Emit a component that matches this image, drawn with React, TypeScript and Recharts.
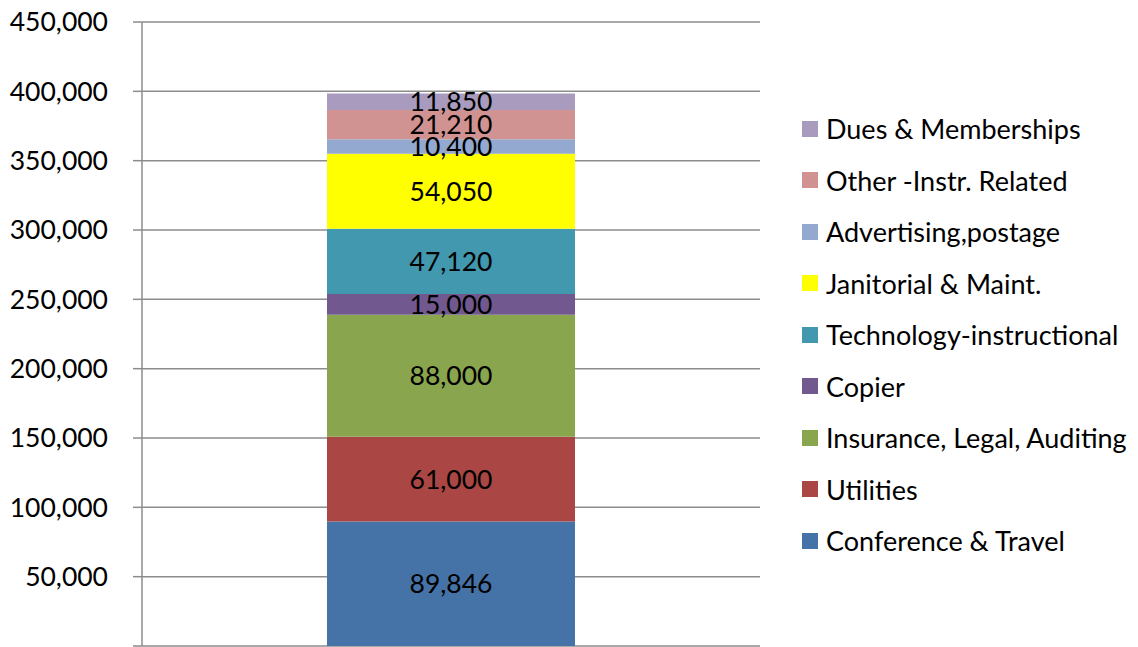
import React from 'react';
import { BarChart, Bar, XAxis, YAxis, CartesianGrid, LabelList } from 'recharts';

const categories = ['Budget'];
const seriesNames = [
  'Conference & Travel',
  'Utilities',
  'Insurance, Legal, Auditing',
  'Copier',
  'Technology-instructional',
  'Janitorial & Maint.',
  'Advertising,postage',
  'Other -Instr. Related',
  'Dues & Memberships',
];
const seriesValues = [89846, 61000, 88000, 15000, 47120, 54050, 10400, 21210, 11850];
const seriesColors = ['#4572A7', '#AA4643', '#89A54E', '#71588F', '#4198AF', '#FFFF00', '#93A9CF', '#D19392', '#A99BBD'];
const yTicks = [0, 50000, 100000, 150000, 200000, 250000, 300000, 350000, 400000, 450000];

const data = categories.map((c) => {
  const row: Record<string, string | number> = { name: c };
  seriesNames.forEach((s, i) => {
    row['s' + i] = seriesValues[i];
  });
  return row;
});

const FONT = 'Lato, "Liberation Sans", sans-serif';
const fmt = (v: number) => (v === 0 ? '' : v.toLocaleString('en-US'));

function LegendBlock() {
  const items = seriesNames.map((n, i) => ({ n, c: seriesColors[i] })).reverse();
  return (
    <div style={{ position: 'absolute', left: 802, top: 103, fontFamily: FONT, fontSize: 27, color: '#000' }}>
      {items.map((it) => (
        <div key={it.n} style={{ height: 51.5, display: 'flex', alignItems: 'center', whiteSpace: 'nowrap' }}>
          <span style={{ display: 'inline-block', width: 16, height: 16, background: it.c, marginRight: 8 }} />
          <span>{it.n}</span>
        </div>
      ))}
    </div>
  );
}

export default function App() {
  return (
    <div style={{ position: 'absolute', left: 0, top: 0, width: 1138, height: 647, overflow: 'hidden', background: '#fff' }}>
      <BarChart
        width={1138}
        height={680}
        data={data}
        margin={{ top: 22, right: 378, left: 0, bottom: 34 }}
        style={{ fontFamily: FONT }}
      >
        <CartesianGrid horizontal vertical={false} stroke="#8C8C8C" strokeWidth={1.5} />
        <XAxis dataKey="name" hide />
        <YAxis
          width={142}
          domain={[0, 450000]}
          ticks={yTicks}
          interval={0}
          tickFormatter={fmt}
          tickSize={9}
          tickMargin={25}
          axisLine={{ stroke: '#8C8C8C', strokeWidth: 1.5 }}
          tickLine={{ stroke: '#8C8C8C', strokeWidth: 1.5 }}
          tick={{ fill: '#000', fontSize: 26.5, fontFamily: FONT }}
        />
        {seriesNames.map((s, i) => (
          <Bar
            key={s}
            dataKey={'s' + i}
            name={s}
            stackId="a"
            fill={seriesColors[i]}
            barSize={248}
            isAnimationActive={false}
          >
            <LabelList
              dataKey={'s' + i}
              position="center"
              formatter={(v: any) => Number(v).toLocaleString('en-US')}
              style={{ fill: '#000', fontSize: 26.5, fontFamily: FONT }}
            />
          </Bar>
        ))}
      </BarChart>
      <LegendBlock />
    </div>
  );
}
